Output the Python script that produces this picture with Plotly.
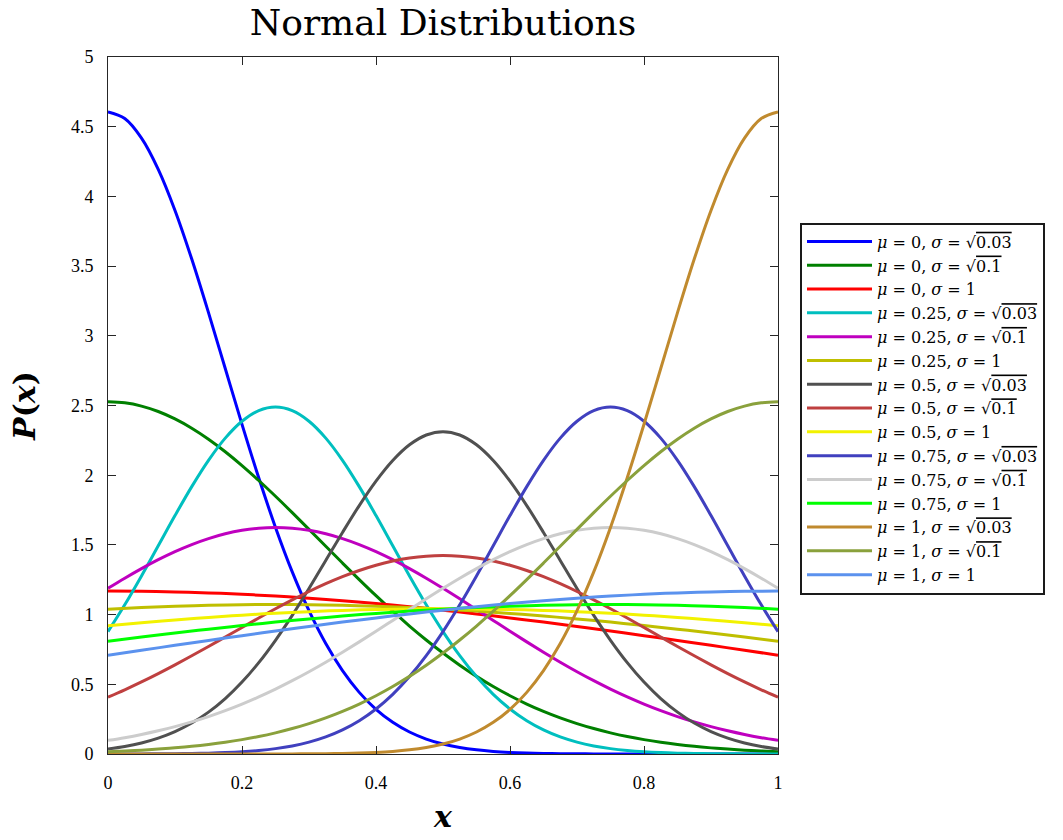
import plotly.graph_objects as go

# x grids
x_fine = [0.000, 0.025, 0.050, 0.075, 0.100, 0.125, 0.150, 0.175, 0.200, 0.225, 0.250,
          0.275, 0.300, 0.325, 0.350, 0.375, 0.400, 0.425, 0.450, 0.475, 0.500,
          0.525, 0.550, 0.575, 0.600, 0.625, 0.650, 0.675, 0.700, 0.725, 0.750,
          0.775, 0.800, 0.825, 0.850, 0.875, 0.900, 0.925, 0.950, 0.975, 1.000]
x_coarse = [0.00, 0.05, 0.10, 0.15, 0.20, 0.25, 0.30, 0.35, 0.40, 0.45, 0.50,
            0.55, 0.60, 0.65, 0.70, 0.75, 0.80, 0.85, 0.90, 0.95, 1.00]

# narrow / medium curves on x_fine
mu0_s003 = [4.6066, 4.5589, 4.4186, 4.1944, 3.8994, 3.5505, 3.1661, 2.7651, 2.3651, 1.9813, 1.6255,
            1.3061, 1.0279, 0.7922, 0.5981, 0.4421, 0.3201, 0.2270, 0.1576, 0.1072, 0.0714,
            0.0466, 0.0298, 0.0186, 0.0114, 0.0069, 0.0040, 0.0023, 0.0013, 0.0007, 0.0004,
            0.0002, 0.0001, 0.0, 0.0, 0.0, 0.0, 0.0, 0.0, 0.0, 0.0]
mu0_s01 = [2.5271, 2.5192, 2.4957, 2.4570, 2.4038, 2.3372, 2.2582, 2.1683, 2.0690, 1.9620, 1.8488,
           1.7314, 1.6113, 1.4903, 1.3697, 1.2510, 1.1355, 1.0242, 0.9181, 0.8179, 0.7240,
           0.6370, 0.5569, 0.4838, 0.4177, 0.3584, 0.3056, 0.2590, 0.2181, 0.1825, 0.1518,
           0.1254, 0.1030, 0.0841, 0.0682, 0.0550, 0.0440, 0.0350, 0.0277, 0.0218, 0.0170]
mu025_s003 = [0.8782, 1.0703, 1.2777, 1.4938, 1.7104, 1.9181, 2.1066, 2.2659, 2.3870, 2.4628, 2.4886,
              2.4628, 2.3870, 2.2659, 2.1066, 1.9181, 1.7104, 1.4938, 1.2777, 1.0703, 0.8782,
              0.7056, 0.5553, 0.4280, 0.3231, 0.2388, 0.1729, 0.1226, 0.0852, 0.0579, 0.0386,
              0.0252, 0.0161, 0.0101, 0.0062, 0.0037, 0.0022, 0.0013, 0.0007, 0.0004, 0.0002]
mu025_s01 = [1.1886, 1.2613, 1.3301, 1.3939, 1.4517, 1.5025, 1.5453, 1.5796, 1.6044, 1.6195, 1.6246,
             1.6195, 1.6044, 1.5796, 1.5453, 1.5025, 1.4517, 1.3939, 1.3301, 1.2613, 1.1886,
             1.1131, 1.0359, 0.9580, 0.8805, 0.8042, 0.7300, 0.6584, 0.5902, 0.5258, 0.4654,
             0.4095, 0.3580, 0.3110, 0.2685, 0.2304, 0.1965, 0.1665, 0.1402, 0.1173, 0.0976]
mu05_s003 = [0.0358, 0.0538, 0.0791, 0.1139, 0.1607, 0.2219, 0.3002, 0.3976, 0.5159, 0.6556, 0.8159,
             0.9945, 1.1872, 1.3880, 1.5892, 1.7822, 1.9573, 2.1054, 2.2179, 2.2883, 2.3123,
             2.2883, 2.2179, 2.1054, 1.9573, 1.7822, 1.5892, 1.3880, 1.1872, 0.9945, 0.8159,
             0.6556, 0.5159, 0.3976, 0.3002, 0.2219, 0.1607, 0.1139, 0.0791, 0.0538, 0.0358]
mu05_s01 = [0.4079, 0.4607, 0.5172, 0.5770, 0.6397, 0.7047, 0.7716, 0.8395, 0.9077, 0.9754, 1.0416,
            1.1052, 1.1656, 1.2215, 1.2722, 1.3166, 1.3542, 1.3841, 1.4060, 1.4192, 1.4236,
            1.4192, 1.4060, 1.3841, 1.3542, 1.3166, 1.2722, 1.2215, 1.1656, 1.1052, 1.0416,
            0.9754, 0.9077, 0.8395, 0.7716, 0.7047, 0.6397, 0.5770, 0.5172, 0.4607, 0.4079]
mu075_s003 = [0.0002, 0.0004, 0.0007, 0.0013, 0.0022, 0.0037, 0.0062, 0.0101, 0.0161, 0.0252, 0.0386,
              0.0579, 0.0852, 0.1226, 0.1729, 0.2388, 0.3231, 0.4280, 0.5553, 0.7056, 0.8782,
              1.0703, 1.2777, 1.4938, 1.7104, 1.9181, 2.1066, 2.2659, 2.3870, 2.4628, 2.4886,
              2.4628, 2.3870, 2.2659, 2.1066, 1.9181, 1.7104, 1.4938, 1.2777, 1.0703, 0.8782]
mu075_s01 = [0.0976, 0.1173, 0.1402, 0.1665, 0.1965, 0.2304, 0.2685, 0.3110, 0.3580, 0.4095, 0.4654,
             0.5258, 0.5902, 0.6584, 0.7300, 0.8042, 0.8805, 0.9580, 1.0359, 1.1131, 1.1886,
             1.2613, 1.3301, 1.3939, 1.4517, 1.5025, 1.5453, 1.5796, 1.6044, 1.6195, 1.6246,
             1.6195, 1.6044, 1.5796, 1.5453, 1.5025, 1.4517, 1.3939, 1.3301, 1.2613, 1.1886]
mu1_s003 = [0.0, 0.0, 0.0, 0.0, 0.0, 0.0, 0.0, 0.0, 0.0001, 0.0002, 0.0004,
            0.0007, 0.0013, 0.0023, 0.0040, 0.0069, 0.0114, 0.0186, 0.0298, 0.0466, 0.0714,
            0.1072, 0.1576, 0.2270, 0.3201, 0.4421, 0.5981, 0.7922, 1.0279, 1.3061, 1.6255,
            1.9813, 2.3651, 2.7651, 3.1661, 3.5505, 3.8994, 4.1944, 4.4186, 4.5589, 4.6066]
mu1_s01 = [0.0170, 0.0218, 0.0277, 0.0350, 0.0440, 0.0550, 0.0682, 0.0841, 0.1030, 0.1254, 0.1518,
           0.1825, 0.2181, 0.2590, 0.3056, 0.3584, 0.4177, 0.4838, 0.5569, 0.6370, 0.7240,
           0.8179, 0.9181, 1.0242, 1.1355, 1.2510, 1.3697, 1.4903, 1.6113, 1.7314, 1.8488,
           1.9620, 2.0690, 2.1683, 2.2582, 2.3372, 2.4038, 2.4570, 2.4957, 2.5192, 2.5271]

# wide curves (sigma = 1) on x_coarse
mu0_s1 = [1.1687, 1.1673, 1.1629, 1.1557, 1.1456, 1.1328, 1.1173, 1.0993, 1.0789, 1.0562, 1.0314,
          1.0047, 0.9762, 0.9462, 0.9148, 0.8822, 0.8487, 0.8144, 0.7795, 0.7443, 0.7089]
mu025_s1 = [1.0392, 1.0510, 1.0602, 1.0668, 1.0709, 1.0722, 1.0709, 1.0668, 1.0602, 1.0510, 1.0392,
            1.0250, 1.0085, 0.9898, 0.9690, 0.9462, 0.9217, 0.8956, 0.8680, 0.8392, 0.8093]
mu05_s1 = [0.9194, 0.9415, 0.9617, 0.9799, 0.9960, 1.0098, 1.0212, 1.0302, 1.0366, 1.0405, 1.0418,
           1.0405, 1.0366, 1.0302, 1.0212, 1.0098, 0.9960, 0.9799, 0.9617, 0.9415, 0.9194]
mu075_s1 = [0.8093, 0.8392, 0.8680, 0.8956, 0.9217, 0.9462, 0.9690, 0.9898, 1.0085, 1.0250, 1.0392,
            1.0510, 1.0602, 1.0668, 1.0709, 1.0722, 1.0709, 1.0668, 1.0602, 1.0510, 1.0392]
mu1_s1 = [0.7089, 0.7443, 0.7795, 0.8144, 0.8487, 0.8822, 0.9148, 0.9462, 0.9762, 1.0047, 1.0314,
          1.0562, 1.0789, 1.0993, 1.1173, 1.1328, 1.1456, 1.1557, 1.1629, 1.1673, 1.1687]

mu_labels = ["0", "0", "0", "0.25", "0.25", "0.25", "0.5", "0.5", "0.5",
             "0.75", "0.75", "0.75", "1", "1", "1"]
sigma_labels = ["√0.03", "√0.1", "1"] * 5
series = [mu0_s003, mu0_s01, mu0_s1, mu025_s003, mu025_s01, mu025_s1,
          mu05_s003, mu05_s01, mu05_s1, mu075_s003, mu075_s01, mu075_s1,
          mu1_s003, mu1_s01, mu1_s1]
colors = ["#0000ff", "#008000", "#ff0000", "#00bfbf", "#bf00bf", "#bfbf00",
          "#505050", "#bf4040", "#f2f200", "#4040bf", "#cccccc", "#00ff00",
          "#c08a2e", "#8aa13c", "#5b92ee"]

SERIF = "Liberation Serif, DejaVu Serif, serif"
DSERIF = "DejaVu Serif, Liberation Serif, serif"


def sigma_text(s):
    if s.startswith("√"):
        return "√<span style='text-decoration:overline'>" + s[1:] + "</span>"
    return s


fig = go.Figure()
for ys, mu, sg, c in zip(series, mu_labels, sigma_labels, colors):
    xs = x_fine if len(ys) == len(x_fine) else x_coarse
    name = "<i>μ</i> = " + mu + ", <i>σ</i> = " + sigma_text(sg)
    fig.add_trace(go.Scatter(
        x=xs, y=ys, mode="lines", name=name,
        line=dict(color=c, width=3, shape="spline", smoothing=1.0),
    ))

axis_common = dict(
    showgrid=False, zeroline=False, showline=True, linecolor="#262626", linewidth=1,
    mirror="ticks", ticks="inside", ticklen=8, tickcolor="#262626", tickwidth=1,
    tickfont=dict(family=SERIF, size=18, color="black"),
)

fig.update_layout(
    width=1063, height=840,
    paper_bgcolor="white", plot_bgcolor="white",
    margin=dict(l=108, r=285, t=57, b=80),
    title=dict(text="Normal Distributions", x=443 / 1063, xanchor="center",
               y=1 - 22 / 840, yanchor="middle",
               font=dict(family=DSERIF, size=36, color="black")),
    xaxis=dict(range=[0, 1], tickvals=[0, 0.2, 0.4, 0.6, 0.8, 1],
               ticktext=["0", "0.2", "0.4", "0.6", "0.8", "1"],
               title=dict(text="<b><i>x</i></b>", font=dict(family=DSERIF, size=30, color="black"),
                          standoff=14),
               ticklabelstandoff=12, **axis_common),
    yaxis=dict(range=[0, 5], tickvals=[0, 0.5, 1, 1.5, 2, 2.5, 3, 3.5, 4, 4.5, 5],
               ticktext=["0", "0.5", "1", "1.5", "2", "2.5", "3", "3.5", "4", "4.5", "5"],
               title=dict(text="<b><i>P</i>(<i>x</i>)</b>", font=dict(family=DSERIF, size=30, color="black"),
                          standoff=26),
               ticklabelstandoff=10, **axis_common),
    legend=dict(x=(800 - 108) / 670, xanchor="left", y=(760 - 224) / 703, yanchor="top",
                bgcolor="white", bordercolor="#1a1a1a", borderwidth=2,
                font=dict(family=DSERIF, size=16, color="black"),
                itemwidth=65, tracegroupgap=0),
    showlegend=True,
)

fig.write_html("out.html")
